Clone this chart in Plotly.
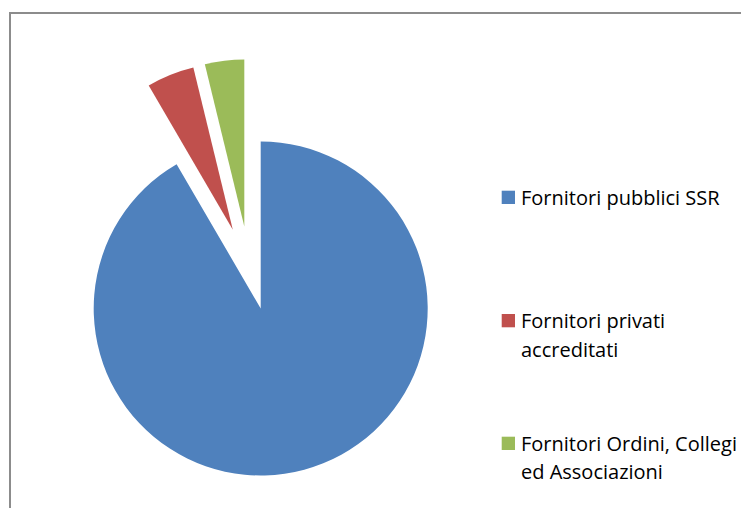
import numpy as np
import plotly.graph_objects as go

# ---- data ----
labels = ["Fornitori pubblici SSR",
          "Fornitori privati accreditati",
          "Fornitori Ordini, Collegi ed Associazioni"]
legend_lines = [["Fornitori pubblici SSR"],
                ["Fornitori privati", "accreditati"],
                ["Fornitori Ordini, Collegi", "ed Associazioni"]]
values = [91.6, 4.6, 3.8]

# ---- style ----
colors = ["#4F81BD", "#C0504D", "#9BBB59"]
OFF = 8                         # page body margin offset (px)
W, H = 749 - 2 * OFF, 516 - 2 * OFF
R = 167                         # pie radius (px)
CX, CY = 260.7, 308.5           # pie centre (screen px)
PULL = [0.0, 0.5, 0.5]          # explode, fraction of radius
PULL_DIR = [0.0, 340.5, 348.7]  # explode direction, deg clockwise from 12 o'clock
FONT = "Open Sans"
FS = 20


def px(x):
    return (x - OFF) / W


def py(y):
    return 1 - (y - OFF) / H


fig = go.Figure()
for i in range(len(values)):
    d = np.radians(PULL_DIR[i])
    cx = CX + PULL[i] * R * np.sin(d)
    cy = CY - PULL[i] * R * np.cos(d)
    cols = [c if j == i else "rgba(0,0,0,0)" for j, c in enumerate(colors)]
    fig.add_trace(go.Pie(
        values=values, labels=labels, sort=False, direction="clockwise",
        rotation=0, textinfo="none", showlegend=False,
        marker=dict(colors=cols, line=dict(width=0)),
        domain=dict(x=[px(cx - R), px(cx + R)],
                    y=[py(cy + R), py(cy - R)]),
    ))

# legend drawn as squares + text
sq_x0, sq_size = 501.7, 13.3
text_x = 518.5
item_tops = [190.7, 314.0, 436.7]
line_gap = 28.4
shapes = []
annotations = []
for i, lines in enumerate(legend_lines):
    top = item_tops[i]
    shapes.append(dict(type="rect", xref="paper", yref="paper",
                       x0=px(sq_x0), x1=px(sq_x0 + sq_size),
                       y0=py(top + sq_size), y1=py(top),
                       fillcolor=colors[i], line=dict(width=0)))
    for k, ln in enumerate(lines):
        yc = top + 6.8 + k * line_gap
        annotations.append(dict(text=ln, xref="paper", yref="paper",
                                x=px(text_x), y=py(yc), xanchor="left",
                                yanchor="middle", showarrow=False,
                                font=dict(family=FONT, size=FS, color="#000000")))

# chart border (top and left edges; the rest lies outside the crop)
border = dict(color="#8C8C8C", width=2)
shapes.append(dict(type="line", xref="paper", yref="paper",
                   x0=px(9), x1=px(760), y0=py(13), y1=py(13), line=border))
shapes.append(dict(type="line", xref="paper", yref="paper",
                   x0=px(10), x1=px(10), y0=py(12), y1=py(530), line=border))

fig.update_layout(width=W, height=H, margin=dict(l=0, r=0, t=0, b=0),
                  paper_bgcolor="white", plot_bgcolor="white",
                  shapes=shapes, annotations=annotations,
                  font=dict(family=FONT))
fig.write_html("out.html")
